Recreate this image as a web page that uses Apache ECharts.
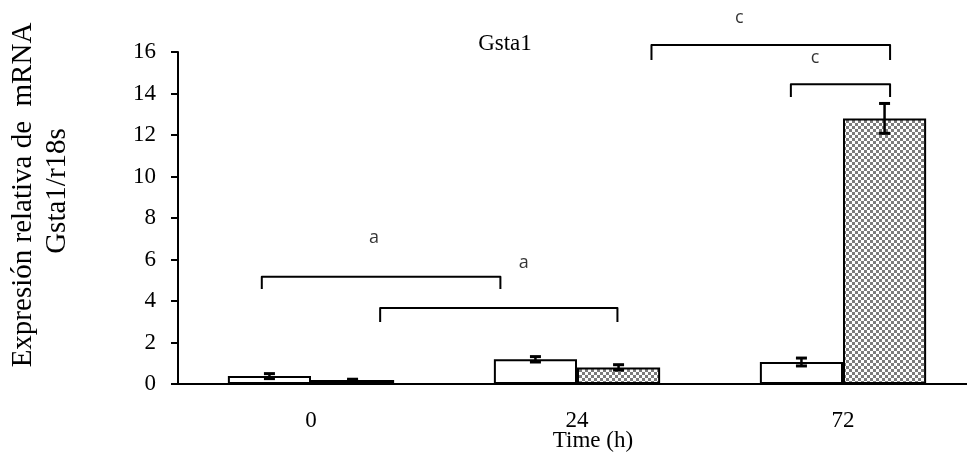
<!DOCTYPE html>
<html>
<head>
<meta charset="utf-8">
<script src="https://cdn.jsdelivr.net/npm/echarts@6/dist/echarts.min.js"></script>
<style>
  html, body { margin: 0; padding: 0; background: #fff; }
  #chart { width: 967px; height: 468px; }
</style>
</head>
<body>
<div id="chart"></div>
<script>
// Time points (h)
const categories = ['0', '24', '72'];
// Control group: mean and error
const controlMean = [0.38, 1.19, 1.06];
const controlErr = [0.12, 0.13, 0.19];
// Treated group: mean and error
const treatedMean = [0.19, 0.80, 12.80];
const treatedErr = [0.04, 0.13, 0.72];
// Y axis range
const yMin = 0, yMax = 16, yStep = 2;
// Significance brackets: [xStart, xEnd, yTop, yLegEnd], x in category units
const brackets = [
  [-0.185, 0.712, 5.17, 4.58],
  [0.26, 1.152, 3.66, 2.99],
  [1.28, 2.177, 16.34, 15.61],
  [1.804, 2.177, 14.44, 13.83]
];
// Letters over the brackets: [x, y, text]
const bracketLetters = [
  [0.237, 7.04, 'a'],
  [0.80, 5.83, 'a'],
  [1.61, 17.64, 'c'],
  [1.895, 15.71, 'c']
];

const SERIF = '"Liberation Serif", "Times New Roman", serif';
const BAR_FRAC = 0.3125; // each bar's share of the category band

// checkered fill for the treated bars
function checker() {
  const c = document.createElement('canvas');
  c.width = 6; c.height = 6;
  const g = c.getContext('2d');
  g.fillStyle = '#ffffff'; g.fillRect(0, 0, 6, 6);
  g.fillStyle = '#7c7c7c';
  g.fillRect(0, 0, 3, 3);
  g.fillRect(3, 3, 3, 3);
  return c;
}

function errorSeries(means, errs, side) {
  return {
    type: 'custom',
    xAxisIndex: 0,
    yAxisIndex: 0,
    z: 5,
    data: means.map((m, i) => [i, m, errs[i]]),
    renderItem: function (params, api) {
      const i = api.value(0), v = api.value(1), e = api.value(2);
      const band = api.size([1, 0])[0];
      const c = api.coord([i, v]);
      const x = c[0] + side * band * BAR_FRAC / 2;
      const top = api.coord([i, v + e])[1];
      const bot = api.coord([i, v - e])[1];
      const hw = 5.5;
      return {
        type: 'group',
        children: [
          { type: 'line', shape: { x1: x, y1: top, x2: x, y2: bot }, style: { stroke: '#000', lineWidth: 2.5 } },
          { type: 'line', shape: { x1: x - hw, y1: top, x2: x + hw, y2: top }, style: { stroke: '#000', lineWidth: 3 } },
          { type: 'line', shape: { x1: x - hw, y1: bot, x2: x + hw, y2: bot }, style: { stroke: '#000', lineWidth: 3 } }
        ]
      };
    }
  };
}

const bracketSeries = brackets.map(b => ({
  type: 'line',
  xAxisIndex: 1,
  yAxisIndex: 0,
  clip: false,
  symbol: 'none',
  silent: true,
  z: 6,
  lineStyle: { color: '#000', width: 2, join: 'round' },
  data: [[b[0], b[3]], [b[0], b[2]], [b[1], b[2]], [b[1], b[3]]]
}));

const chart = echarts.init(document.getElementById('chart'), null, { renderer: 'canvas' });
chart.setOption({
  animation: false,
  backgroundColor: '#fff',
  grid: { left: 178, width: 798, top: 52, bottom: 84, containLabel: false, outerBoundsMode: 'none' },
  xAxis: [
    {
      type: 'category',
      data: categories,
      axisLine: { lineStyle: { color: '#000', width: 2 } },
      axisTick: { show: false },
      axisLabel: { color: '#000', fontFamily: SERIF, fontSize: 23, margin: 25 },
      splitLine: { show: false }
    },
    { type: 'value', min: -0.5, max: 2.5, show: false }
  ],
  yAxis: {
    type: 'value',
    min: yMin, max: yMax, interval: yStep,
    axisLine: { show: true, onZero: false, lineStyle: { color: '#000', width: 2 } },
    axisTick: { show: true, inside: false, length: 7, lineStyle: { color: '#000', width: 2 } },
    axisLabel: { color: '#000', fontFamily: SERIF, fontSize: 23, margin: 22 },
    splitLine: { show: false }
  },
  graphic: [
    { type: 'text', x: 505, y: 44, style: { text: 'Gsta1', font: '23px ' + SERIF, fill: '#000', align: 'center', verticalAlign: 'middle' } },
    { type: 'text', x: 593, y: 441, style: { text: 'Time (h)', font: '23px ' + SERIF, fill: '#000', align: 'center', verticalAlign: 'middle' } },
    { type: 'text', x: 23, y: 195, rotation: Math.PI / 2, style: { text: 'Expresión relativa de  mRNA', font: '29px ' + SERIF, fill: '#000', align: 'center', verticalAlign: 'middle' } },
    { type: 'text', x: 57, y: 191, rotation: Math.PI / 2, style: { text: 'Gsta1/r18s', font: '29px ' + SERIF, fill: '#000', align: 'center', verticalAlign: 'middle' } }
  ],
  series: [
    {
      type: 'bar',
      data: controlMean,
      barWidth: (BAR_FRAC * 100) + '%',
      barGap: '0%',
      itemStyle: { color: '#fff', borderColor: '#000', borderWidth: 2 }
    },
    {
      type: 'bar',
      data: treatedMean,
      barWidth: (BAR_FRAC * 100) + '%',
      barGap: '0%',
      itemStyle: { color: { image: checker(), repeat: 'repeat' }, borderColor: '#000', borderWidth: 2 }
    },
    errorSeries(controlMean, controlErr, -1),
    errorSeries(treatedMean, treatedErr, 1),
    ...bracketSeries,
    {
      type: 'scatter',
      xAxisIndex: 1,
      yAxisIndex: 0,
      clip: false,
      silent: true,
      symbolSize: 1,
      itemStyle: { color: 'rgba(0,0,0,0)' },
      data: bracketLetters.map(l => ({ value: [l[0], l[1]], name: l[2] })),
      label: {
        show: true,
        position: 'inside',
        formatter: p => p.name,
        color: '#000',
        fontFamily: '"Open Sans", Lato, sans-serif',
        fontSize: 18
      }
    }
  ]
});
</script>
</body>
</html>
